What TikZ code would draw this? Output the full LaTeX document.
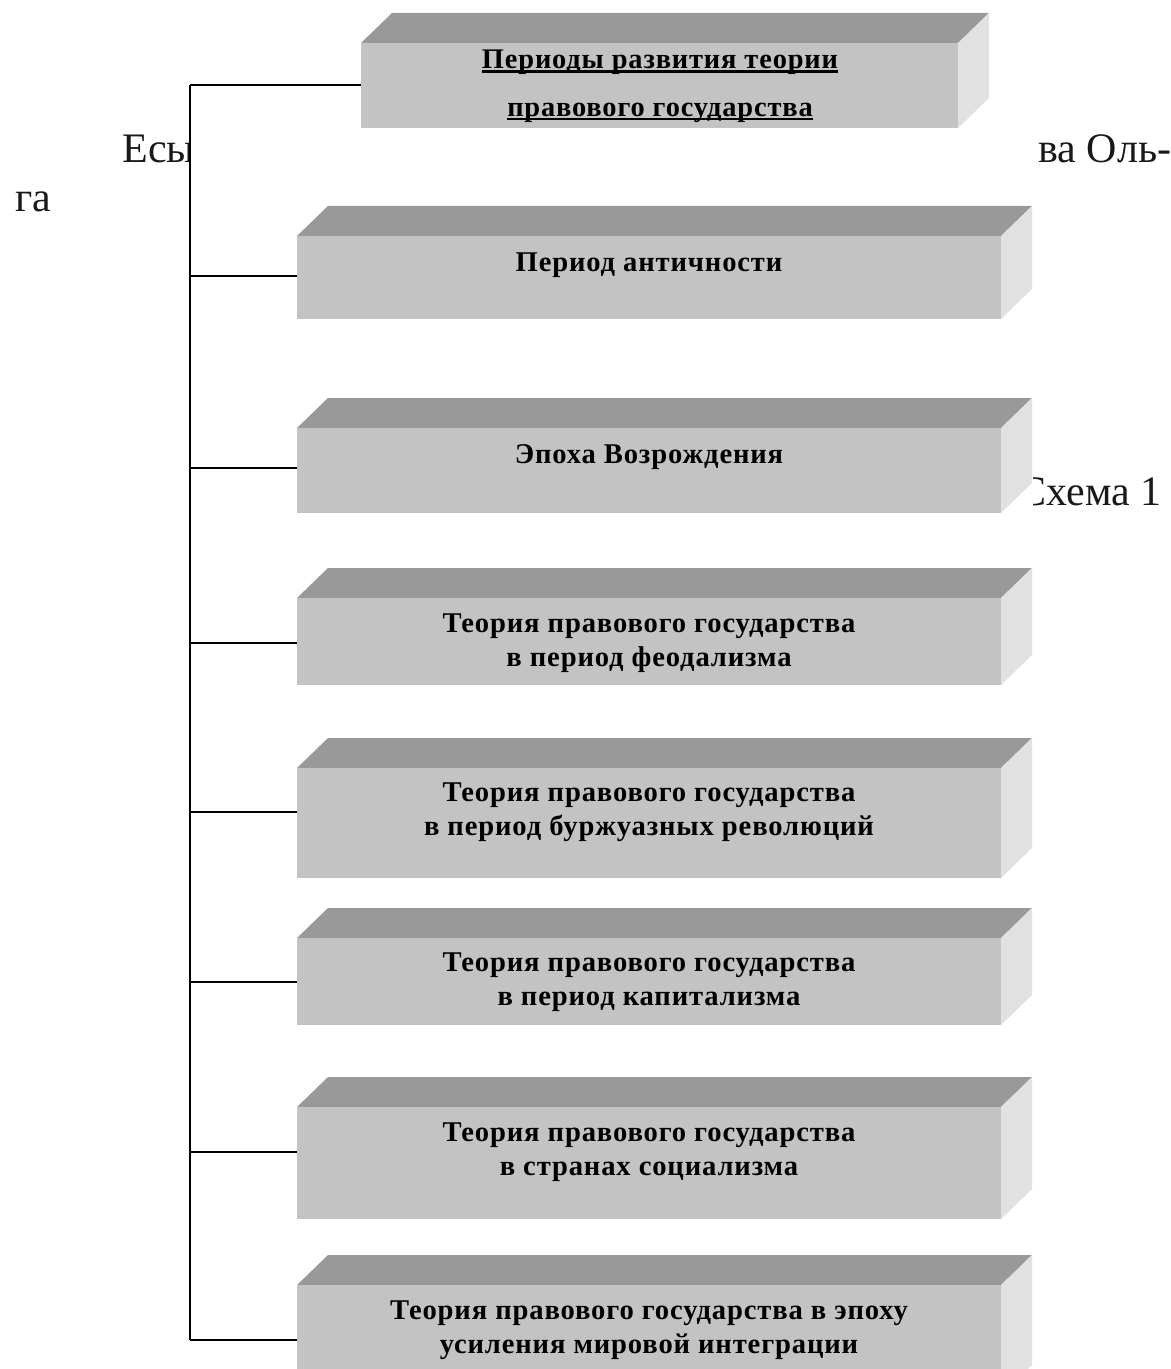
\documentclass[tikz,border=0pt]{standalone}
\usepackage{fontspec}
\setmainfont{Liberation Serif}
\newfontfamily\slabfont{Liberation Serif}[LetterSpace=3]
\usetikzlibrary{fit}
\definecolor{topgray}{HTML}{999999}
\definecolor{frontgray}{HTML}{C3C3C3}
\definecolor{sidegray}{HTML}{E1E1E1}
\newcommand\thickul[3]{\leavevmode\setbox0\hbox{#3}\rlap{\rule[-#1]{\wd0}{#2}}\box0}
\tikzset{
  topface/.style={fill=topgray},
  sideface/.style={fill=sidegray},
  frontface/.style={fill=frontgray, inner sep=0pt, draw=none},
  slabtext/.style={font=\slabfont\bfseries\fontsize{14.3}{17}\selectfont, align=center, text=black, inner sep=0pt},
  titletext/.style={font=\slabfont\bfseries\fontsize{14.2}{24}\selectfont, align=center, text=black, inner sep=0pt},
  pagetext/.style={font=\fontsize{21}{25}\selectfont, text=black!90, inner sep=0pt},
  link/.style={line width=1pt, black}
}
% name, left, top, right, bottom
\newcommand\drawslab[5]{%
  \fill[topface] (#2,#3) -- ({#2+31},{#3-30}) -- ({#4+31},{#3-30}) -- (#4,#3) -- cycle;
  \fill[sideface] (#4,#3) -- ({#4+31},{#3-30}) -- ({#4+31},{#5-30}) -- (#4,#5) -- cycle;
  \coordinate (#1nw) at (#2,#3);
  \coordinate (#1se) at (#4,#5);
  \node[frontface, fit=(#1nw)(#1se)] (#1) {};
}
\begin{document}
\begin{tikzpicture}[x=0.5pt,y=-0.5pt]
\useasboundingbox (0,0) rectangle (1171,1369);
\fill[white] (0,0) rectangle (1171,1369);
% page text partly hidden by the diagram
\begin{scope}
  \clip (0,0) rectangle (190,1369);
  \node[pagetext, anchor=base west] (pes) at (122,163) {Есы};
\end{scope}
\node[pagetext, anchor=base west] (pga) at (15,212) {га};
\node[pagetext, anchor=base west] (pol) at (1038,163) {ва Оль-};
\begin{scope}
  \clip (1033,0) rectangle (1171,1369);
  \node[pagetext, anchor=base east] (psch) at (1162,505) {Схема 1};
\end{scope}
% slabs
\drawslab{b0}{361}{43}{958}{128}
\drawslab{b1}{297}{236}{1001}{319}
\drawslab{b2}{297}{428}{1001}{513}
\drawslab{b3}{297}{598}{1001}{685}
\drawslab{b4}{297}{768}{1001}{878}
\drawslab{b5}{297}{938}{1001}{1025}
\drawslab{b6}{297}{1107}{1001}{1219}
\drawslab{b7}{297}{1285}{1001}{1395}
% texts
\node[titletext] (t0) at (660,86) {\thickul{2.5pt}{1.5pt}{Периоды развития теории}\\\thickul{2pt}{1pt}{правового государства}};
\node[slabtext] (t1) at (649,265) {Период античности};
\node[slabtext] (t2) at (649,457) {Эпоха Возрождения};
\node[slabtext] (t3) at (649,643) {Теория правового государства\\в период феодализма};
\node[slabtext] (t4) at (649,812) {Теория правового государства\\в период буржуазных революций};
\node[slabtext] (t5) at (649,982) {Теория правового государства\\в период капитализма};
\node[slabtext] (t6) at (649,1152) {Теория правового государства\\в странах социализма};
\node[slabtext] (t7) at (649,1330) {Теория правового государства в эпоху\\усиления мировой интеграции};
% connectors
\coordinate (s0) at (190,85);
\coordinate (s1) at (190,276);
\coordinate (s2) at (190,468);
\coordinate (s3) at (190,643);
\coordinate (s4) at (190,812);
\coordinate (s5) at (190,982);
\coordinate (s6) at (190,1152);
\coordinate (s7) at (190,1340);
\draw[link] (s0) -- (s7);
\foreach \k in {0,...,7} {\draw[link] (s\k) -- (s\k -| b\k.west);}
\end{tikzpicture}
\end{document}
